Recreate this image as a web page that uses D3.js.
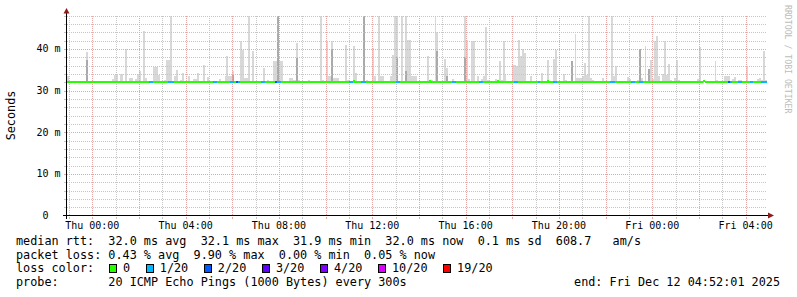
<!DOCTYPE html>
<meta charset="utf-8">

<!-- Load D3 -->
<script src="https://d3js.org/d3.v7.min.js"></script>

<body style="margin: 0; background: #ffffff">
<div id="graph"></div>
</body>
<script>

    // rrd step and the 30 hour window shown
    var stepSec = 300;
    var nSteps = 360;
    var startTime = new Date(2025, 11, 10, 22, 55);
    var endTime = new Date(2025, 11, 12, 4, 55);

    // smoke: [step, highest ping ms, top of darker dense part ms (0 = none)]
    var spikes = [
        [0, 33.4, 0], [10, 39.3, 37.4], [14, 32.4, 0], [23, 32.8, 0], [24, 33.8, 0], [25, 33.7, 0],
        [27, 34.0, 0], [28, 34.0, 0], [30, 39.9, 0], [32, 33.1, 0], [33, 33.1, 0], [35, 32.8, 0],
        [36, 34.0, 0], [37, 34.6, 0], [39, 44.4, 0], [40, 33.1, 0], [42, 32.2, 0], [44, 35.6, 0],
        [45, 35.6, 0], [46, 35.6, 0], [47, 33.8, 0], [50, 32.6, 0], [51, 37.4, 0], [52, 37.4, 0],
        [53, 48.2, 0], [55, 33.4, 0], [56, 35.0, 0], [58, 32.6, 0], [59, 34.2, 0], [62, 33.5, 0],
        [65, 32.8, 0], [66, 32.8, 0], [67, 34.2, 0], [69, 32.4, 0], [70, 36.2, 0], [72, 33.3, 0],
        [73, 32.4, 0], [78, 32.7, 0], [81, 33.4, 0], [82, 38.4, 0], [83, 33.4, 0], [84, 33.4, 0],
        [85, 34.6, 33.8], [89, 42.0, 0], [90, 39.8, 0], [91, 32.9, 0], [92, 32.9, 0], [93, 48.2, 0],
        [95, 39.6, 0], [101, 35.4, 0], [103, 32.6, 0], [106, 37.2, 0], [107, 37.2, 0], [108, 48.2, 48.2],
        [109, 37.2, 0], [110, 37.2, 0], [114, 32.9, 0], [115, 32.9, 0], [116, 32.6, 0], [117, 32.6, 0],
        [118, 41.4, 37.8], [119, 32.6, 0], [124, 32.6, 0], [130, 48.2, 0], [131, 32.6, 0], [133, 41.8, 0],
        [134, 33.4, 0], [135, 33.4, 0], [136, 41.8, 40.0], [137, 33.0, 0], [138, 33.0, 0], [139, 33.0, 0],
        [143, 41.0, 0], [144, 32.6, 0], [147, 40.6, 0], [148, 34.2, 0], [152, 48.2, 48.2], [154, 32.6, 0],
        [157, 40.2, 0], [158, 33.4, 0], [160, 48.2, 0], [161, 33.4, 0], [162, 33.4, 0], [166, 33.5, 0],
        [167, 38.6, 0], [168, 48.2, 0], [169, 48.2, 38.0], [172, 48.2, 0], [174, 48.2, 34.6], [175, 42.1, 0],
        [176, 42.1, 0], [177, 33.4, 0], [178, 33.4, 0], [179, 33.4, 0], [184, 32.4, 0], [185, 38.2, 0],
        [187, 32.6, 0], [189, 48.2, 0], [190, 44.0, 39.4], [192, 32.4, 0], [194, 37.5, 0], [195, 35.4, 33.5],
        [198, 32.8, 0], [204, 48.2, 38.0], [205, 42.1, 0], [206, 32.8, 0], [208, 41.8, 0], [209, 41.8, 0],
        [211, 33.4, 0], [213, 32.8, 0], [214, 33.4, 0], [215, 45.2, 0], [216, 32.6, 0], [220, 32.8, 0],
        [222, 37.2, 0], [223, 32.6, 0], [224, 41.8, 0], [225, 33.8, 0], [229, 36.1, 0], [230, 36.1, 0],
        [231, 35.8, 0], [232, 42.1, 0], [233, 38.2, 0], [234, 40.0, 0], [235, 39.0, 0], [238, 33.4, 0],
        [244, 34.2, 0], [247, 37.3, 0], [250, 37.6, 0], [251, 39.8, 0], [255, 34.0, 0], [256, 32.6, 0],
        [259, 37.2, 37.2], [261, 43.6, 0], [262, 33.0, 0], [263, 33.0, 0], [264, 33.0, 0], [265, 33.4, 0],
        [266, 36.6, 0], [267, 33.8, 0], [268, 48.2, 0], [269, 33.0, 0], [270, 32.6, 0], [275, 33.0, 0],
        [280, 48.2, 0], [281, 33.4, 0], [282, 35.8, 0], [284, 32.4, 0], [288, 33.3, 0], [289, 32.8, 0],
        [293, 32.6, 0], [294, 40.0, 40.0], [295, 33.0, 0], [297, 40.8, 0], [298, 32.2, 0], [299, 35.1, 35.1],
        [300, 37.4, 0], [301, 32.8, 0], [302, 41.8, 0], [303, 43.1, 0], [304, 33.5, 0], [306, 34.0, 0],
        [307, 41.8, 0], [308, 33.8, 0], [309, 36.4, 0], [310, 32.6, 0], [312, 33.0, 0], [313, 37.3, 0],
        [314, 32.6, 0], [317, 32.4, 0], [319, 32.2, 0], [322, 32.4, 0], [324, 32.8, 0], [325, 40.5, 0],
        [333, 37.0, 0], [334, 32.6, 0], [338, 33.4, 0], [339, 33.4, 0], [340, 33.4, 0], [341, 32.4, 0],
        [342, 32.8, 0], [343, 33.3, 0], [344, 32.4, 0], [345, 32.6, 0], [346, 32.6, 0], [349, 36.0, 0],
        [350, 32.4, 0], [352, 32.4, 0], [353, 32.4, 0], [355, 32.8, 0], [356, 33.0, 0], [357, 32.6, 0],
        [358, 39.4, 0], [359, 32.6, 0]
    ];

    // packet loss runs: [first step, last step, pings lost of 20]
    var lossRuns = [
        [42, 43, 1], [52, 54, 1], [75, 76, 1], [84, 85, 1], [87, 87, 2], [88, 88, 1],
        [100, 101, 1], [107, 107, 2], [108, 109, 1], [145, 146, 1], [151, 153, 1], [169, 170, 1],
        [198, 199, 1], [212, 213, 1], [230, 231, 1], [242, 242, 1], [250, 251, 1], [279, 281, 1],
        [290, 291, 1], [294, 295, 1], [340, 340, 2], [341, 341, 1], [345, 346, 1], [351, 352, 1],
        [357, 359, 1]
    ];

    // median rtt runs: [first step, last step, median ms]
    var medianRuns = [
        [0, 359, 32.0], [147, 147, 32.2], [186, 186, 32.2], [221, 221, 32.2],
        [247, 247, 32.2], [327, 327, 32.3]
    ];

    // loss colour legend
    var lossLevels = [0, 1, 2, 3, 4, 10, 19];
    var lossLabels = ["0", "1/20", "2/20", "3/20", "4/20", "10/20", "19/20"];
    var lossColors = ["#26ff00", "#00b8ff", "#0059ff", "#5e00ff", "#7e00ff", "#dd00ff", "#ff0000"];

    // y axis ticks (ms)
    var yTicks = [0, 10, 20, 30, 40];

    // statistics below the graph
    var rttStats = ["32.0", "32.1", "31.9", "32.0"];   // avg max min now
    var rttSd = "0.1";
    var amPerSec = "608.7";
    var lossStats = ["0.43", "9.90", "0.00", "0.05"];  // avg max min now
    var probeText = "20 ICMP Echo Pings (1000 Bytes) every 300s";
    var endText = "end: Fri Dec 12 04:52:01 2025";

    var mono = "'DejaVu Sans Mono', monospace";
    var gridColor = "#c6c6c6", mgridColor = "#e8a6a6", arrowColor = "#8e1c1c";

    var svg = d3.select("#graph")
        .append("svg")
        .attr("width", 797)
        .attr("height", 297)
        .style("display", "block");

    var x = d3.scaleTime()
        .domain([startTime, endTime])
        .range([67, 767]);

    var y = d3.scaleLinear()
        .domain([0, 48])
        .range([215.5, 15.5]);

    function stepTime(i) { return new Date(+startTime + i * stepSec * 1000); }

    // per step median and loss
    var median = [], loss = [];
    medianRuns.forEach(function (r) {
        for (var k = r[0]; k <= r[1]; k++) median[k] = r[2];
    });
    for (var k = 0; k < nSteps; k++) loss[k] = 0;
    lossRuns.forEach(function (r) {
        for (var k = r[0]; k <= r[1]; k++) loss[k] = r[2];
    });
    function lossColor(n) {
        var c = lossColors[0];
        lossLevels.forEach(function (l, j) { if (n >= l) c = lossColors[j]; });
        return c;
    }

    svg.append("clipPath").attr("id", "plotclip")
        .append("rect").attr("x", 67).attr("y", 15).attr("width", 700).attr("height", 201);

    // Smoke
    var smoke = svg.append("g").attr("clip-path", "url(#plotclip)").attr("shape-rendering", "crispEdges");
    var smokeBase = 31.7;
    smoke.selectAll("rect.light")
        .data(spikes)
        .enter()
        .append("rect")
        .attr("x", function (d) { return x(stepTime(d[0])); })
        .attr("width", function (d) { return x(stepTime(d[0] + 1)) - x(stepTime(d[0])); })
        .attr("y", function (d) { return y(Math.min(d[1], 48)); })
        .attr("height", function (d) { return y(smokeBase) - y(Math.min(d[1], 48)); })
        .style("fill", "#d8d8d8");
    smoke.selectAll("rect.dark")
        .data(spikes.filter(function (d) { return d[2] > 0; }))
        .enter()
        .append("rect")
        .attr("x", function (d) { return x(stepTime(d[0])); })
        .attr("width", function (d) { return x(stepTime(d[0] + 1)) - x(stepTime(d[0])); })
        .attr("y", function (d) { return y(Math.min(d[2], 48)); })
        .attr("height", function (d) { return y(smokeBase) - y(Math.min(d[2], 48)); })
        .style("fill", "#aaaaaa");

    // Grid
    var grid = svg.append("g").attr("shape-rendering", "crispEdges");
    var minorY = d3.range(2, 49, 2).filter(function (v) { return v % 10 !== 0; });
    var majorY = yTicks.filter(function (v) { return v > 0; });
    var minorX = d3.timeHour.range(startTime, endTime).filter(function (h) { return h.getHours() % 2 !== 0; });
    var majorX = d3.timeHour.every(2).range(startTime, endTime);

    function hLines(vals, color) {
        grid.selectAll(null).data(vals).enter().append("line")
            .attr("x1", 67).attr("x2", 767)
            .attr("y1", function (d) { return Math.round(y(d)) + 0.5; })
            .attr("y2", function (d) { return Math.round(y(d)) + 0.5; })
            .style("stroke", color).style("stroke-dasharray", "1,1");
        grid.selectAll(null).data(vals).enter().append("line")
            .attr("x1", 64).attr("x2", 66)
            .attr("y1", function (d) { return Math.round(y(d)) + 0.5; })
            .attr("y2", function (d) { return Math.round(y(d)) + 0.5; })
            .style("stroke", color);
    }
    function vLines(vals, color) {
        grid.selectAll(null).data(vals).enter().append("line")
            .attr("y1", 15.5).attr("y2", 215)
            .attr("x1", function (d) { return Math.round(x(d)) + 0.5; })
            .attr("x2", function (d) { return Math.round(x(d)) + 0.5; })
            .style("stroke", color).style("stroke-dasharray", "1,1");
        grid.selectAll(null).data(vals).enter().append("line")
            .attr("y1", 217).attr("y2", 219)
            .attr("x1", function (d) { return Math.round(x(d)) + 0.5; })
            .attr("x2", function (d) { return Math.round(x(d)) + 0.5; })
            .style("stroke", color);
    }
    hLines(minorY, gridColor);
    vLines(minorX, gridColor);
    hLines(majorY, mgridColor);
    vLines(majorX, mgridColor);

    // Median coloured by packet loss
    var med = svg.append("g").attr("clip-path", "url(#plotclip)").attr("shape-rendering", "crispEdges");
    med.selectAll("rect")
        .data(d3.range(nSteps))
        .enter()
        .append("rect")
        .attr("x", function (i) { return x(stepTime(i)); })
        .attr("width", function (i) { return x(stepTime(i + 1)) - x(stepTime(i)) + 0.2; })
        .attr("y", function (i) { return y(median[i] + 0.28); })
        .attr("height", function (i) { return y(median[i] - 0.28) - y(median[i] + 0.28); })
        .style("fill", function (i) { return lossColor(loss[i]); });

    // Axes with arrows
    svg.append("line")
        .attr("x1", 63).attr("x2", 770).attr("y1", 215.5).attr("y2", 215.5)
        .style("stroke", "#000").attr("shape-rendering", "crispEdges");
    svg.append("line")
        .attr("x1", 66.5).attr("x2", 66.5).attr("y1", 219).attr("y2", 12)
        .style("stroke", "#000").attr("shape-rendering", "crispEdges");
    svg.append("path")
        .attr("d", "M768,212.5 L774,215.5 L768,218.5 Z")
        .style("fill", arrowColor);
    svg.append("path")
        .attr("d", "M63.5,13.5 L66.5,8 L69.5,13.5 Z")
        .style("fill", arrowColor);

    // Y tick labels
    svg.append("g").selectAll("text")
        .data(yTicks)
        .enter()
        .append("text")
        .attr("x", 60.5)
        .attr("y", function (d) { return y(d) + 3.6; })
        .attr("text-anchor", "end")
        .style("white-space", "pre")
        .style("font-family", mono)
        .style("font-size", "10px")
        .text(function (d) { return d === 0 ? "0  " : d + " m"; });

    // X tick labels
    var fmt = d3.timeFormat("%a %H:%M");
    svg.append("g").selectAll("text")
        .data(d3.timeHour.every(4).range(startTime, endTime))
        .enter()
        .append("text")
        .attr("x", function (d) { return x(d); })
        .attr("y", 228.5)
        .attr("text-anchor", "middle")
        .style("font-family", mono)
        .style("font-size", "10px")
        .text(function (d) { return fmt(d); });

    // Y axis title
    svg.append("text")
        .attr("transform", "translate(14.5,115.5) rotate(-90)")
        .attr("text-anchor", "middle")
        .style("font-family", mono)
        .style("font-size", "11.8px")
        .text("Seconds");

    // Watermark
    svg.append("text")
        .attr("transform", "translate(785,5) rotate(90)")
        .style("font-family", mono)
        .style("font-size", "8.2px")
        .style("fill", "#bcbcbc")
        .text("RRDTOOL / TOBI OETIKER");

    // Legend lines
    var legendFont = "11.8px";
    var lines = [
        "median rtt:  " + rttStats[0] + " ms avg  " + rttStats[1] + " ms max  " + rttStats[2] +
            " ms min  " + rttStats[3] + " ms now  " + rttSd + " ms sd  " + amPerSec + "   am/s",
        "packet loss: " + lossStats[0] + " % avg  " + lossStats[1] + " % max  " + lossStats[2] +
            " % min  " + lossStats[3] + " % now"
    ];
    svg.append("g").selectAll("text")
        .data(lines)
        .enter()
        .append("text")
        .attr("x", 16)
        .attr("y", function (d, i) { return 245 + i * 13.6; })
        .style("white-space", "pre")
        .style("font-family", mono)
        .style("font-size", legendFont)
        .text(function (d) { return d; });

    svg.append("text")
        .attr("x", 16).attr("y", 272.2)
        .style("font-family", mono).style("font-size", legendFont)
        .text("loss color:");

    var charW = 7.11, cursor = 108.8;
    lossLabels.forEach(function (lab, j) {
        svg.append("rect")
            .attr("x", Math.round(cursor) + 0.5).attr("y", 264.5)
            .attr("width", 7).attr("height", 8)
            .style("fill", lossColors[j]).style("stroke", "#000");
        svg.append("text")
            .attr("x", cursor + 14.3).attr("y", 272.2)
            .style("font-family", mono).style("font-size", legendFont)
            .text(lab);
        cursor = cursor + 14.3 + lab.length * charW + 15.3;
    });

    svg.append("text")
        .attr("x", 16).attr("y", 285.8)
        .style("white-space", "pre")
        .style("font-family", mono).style("font-size", legendFont)
        .text("probe:       " + probeText);

    svg.append("text")
        .attr("x", 780).attr("y", 285.8)
        .attr("text-anchor", "end")
        .style("font-family", mono).style("font-size", legendFont)
        .text(endText);

</script>
